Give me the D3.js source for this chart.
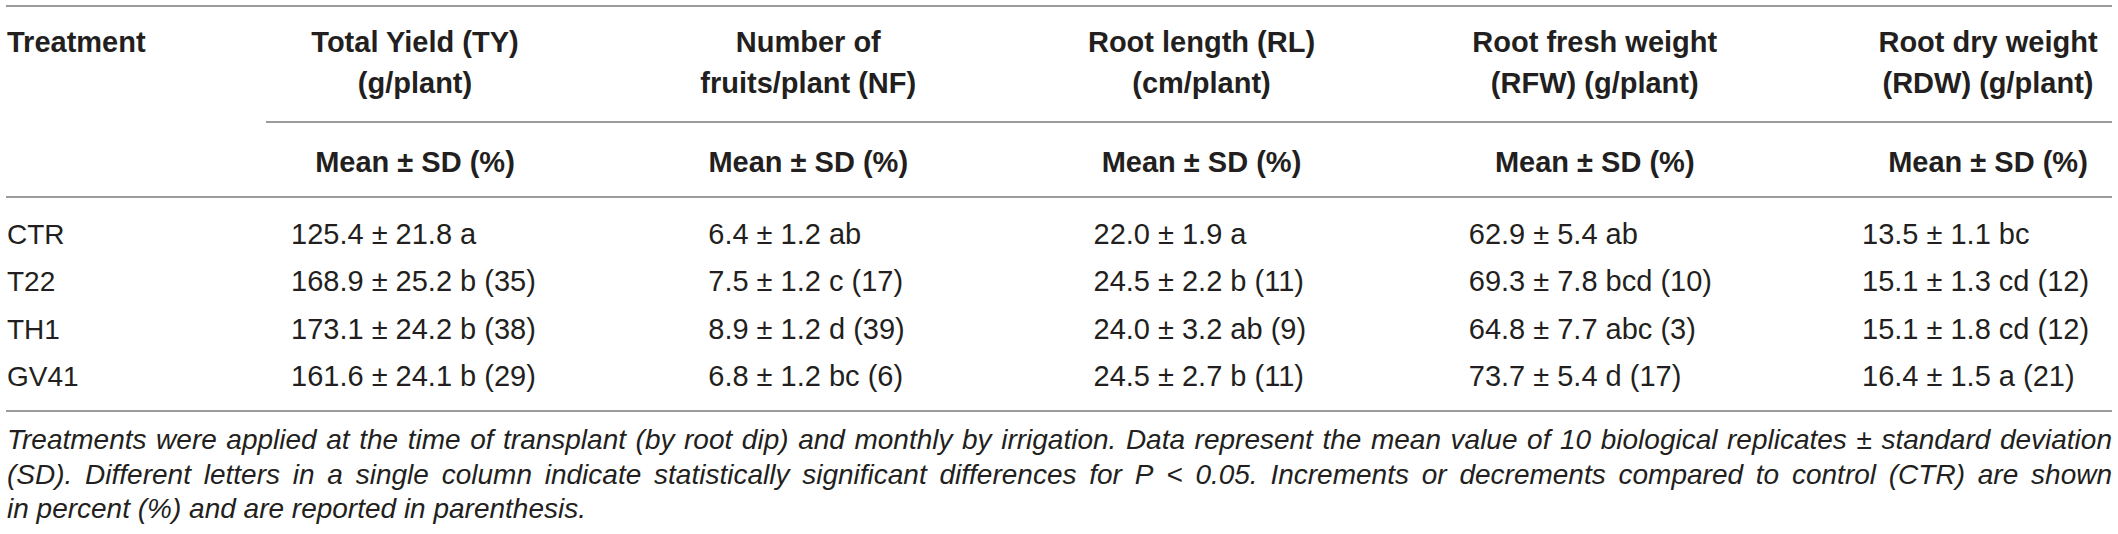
<!DOCTYPE html>
<html>
<head>
<meta charset="utf-8">
<script src="https://cdn.jsdelivr.net/npm/d3@7"></script>
<style>
  body { margin: 0; background: #fff; }
  svg { display: block; font-family: "Liberation Sans", Arial, sans-serif; }
</style>
</head>
<body>
<div id="chart-area"></div>
<script>
// Table data
var treatments = ["CTR", "T22", "TH1", "GV41"];
var columns = ["TY", "NF", "RL", "RFW", "RDW"];
var headerLine1 = ["Total Yield (TY)", "Number of", "Root length (RL)", "Root fresh weight", "Root dry weight"];
var headerLine2 = ["(g/plant)", "fruits/plant (NF)", "(cm/plant)", "(RFW) (g/plant)", "(RDW) (g/plant)"];
var subHeader = "Mean \u00b1 SD (%)";

var tyMean = [125.4, 168.9, 173.1, 161.6];
var tySd = [21.8, 25.2, 24.2, 24.1];
var tyLetter = ["a", "b", "b", "b"];
var tyPct = [null, 35, 38, 29];

var nfMean = [6.4, 7.5, 8.9, 6.8];
var nfSd = [1.2, 1.2, 1.2, 1.2];
var nfLetter = ["ab", "c", "d", "bc"];
var nfPct = [null, 17, 39, 6];

var rlMean = [22.0, 24.5, 24.0, 24.5];
var rlSd = [1.9, 2.2, 3.2, 2.7];
var rlLetter = ["a", "b", "ab", "b"];
var rlPct = [null, 11, 9, 11];

var rfwMean = [62.9, 69.3, 64.8, 73.7];
var rfwSd = [5.4, 7.8, 7.7, 5.4];
var rfwLetter = ["ab", "bcd", "abc", "d"];
var rfwPct = [null, 10, 3, 17];

var rdwMean = [13.5, 15.1, 15.1, 16.4];
var rdwSd = [1.1, 1.3, 1.8, 1.5];
var rdwLetter = ["bc", "cd", "cd", "a"];
var rdwPct = [null, 12, 12, 21];

var footnote = [
    "Treatments were applied at the time of transplant (by root dip) and monthly by irrigation. Data represent the mean value of 10 biological replicates \u00b1 standard deviation",
    "(SD). Different letters in a single column indicate statistically significant differences for P < 0.05. Increments or decrements compared to control (CTR) are shown",
    "in percent (%) and are reported in parenthesis."
];

// build cell table from the arrays
var series = [
    [tyMean, tySd, tyLetter, tyPct],
    [nfMean, nfSd, nfLetter, nfPct],
    [rlMean, rlSd, rlLetter, rlPct],
    [rfwMean, rfwSd, rfwLetter, rfwPct],
    [rdwMean, rdwSd, rdwLetter, rdwPct]
];
var f1 = d3.format(".1f");
var cells = [];
series.forEach((s, ci) => {
    treatments.forEach((t, ri) => {
        var txt = f1(s[0][ri]) + " \u00b1 " + f1(s[1][ri]) + " " + s[2][ri];
        if (s[3][ri] != null) txt += " (" + s[3][ri] + ")";
        cells.push({col: columns[ci], row: t, text: txt});
    });
});

// layout
var width = 2118, height = 534;
var left = 7, right = 2112;
var textColor = "#231f20", ruleColor = "#9b9b9b";
var valueShift = [-124, -100, -108, -126, -126];

var svg = d3.select("#chart-area").append("svg")
            .attr("width", width)
            .attr("height", height);

const x = d3.scalePoint().domain(columns).range([415, 1988]);
const y = d3.scalePoint().domain(treatments).range([244, 386]);
const valueX = (c) => x(c) + valueShift[columns.indexOf(c)];

// rules
var rules = [
    {x1: 6, x2: right, y: 6},
    {x1: 266, x2: right, y: 122},
    {x1: 6, x2: right, y: 197},
    {x1: 6, x2: right, y: 411}
];
svg.selectAll("line.rule").data(rules).enter().append("line")
    .attr("class", "rule")
    .attr("x1", d => d.x1).attr("x2", d => d.x2)
    .attr("y1", d => d.y).attr("y2", d => d.y)
    .attr("stroke", ruleColor)
    .attr("stroke-width", 2);

// header
svg.append("text")
    .attr("x", left).attr("y", 52)
    .attr("font-size", 29).attr("font-weight", "bold")
    .attr("fill", textColor)
    .text("Treatment");

svg.selectAll("text.h1").data(columns).enter().append("text")
    .attr("class", "h1")
    .attr("x", d => x(d)).attr("y", 52)
    .attr("text-anchor", "middle")
    .attr("font-size", 29).attr("font-weight", "bold")
    .attr("fill", textColor)
    .text((d, i) => headerLine1[i]);

svg.selectAll("text.h2").data(columns).enter().append("text")
    .attr("class", "h2")
    .attr("x", d => x(d)).attr("y", 93)
    .attr("text-anchor", "middle")
    .attr("font-size", 29).attr("font-weight", "bold")
    .attr("fill", textColor)
    .text((d, i) => headerLine2[i]);

svg.selectAll("text.sub").data(columns).enter().append("text")
    .attr("class", "sub")
    .attr("x", d => x(d)).attr("y", 172)
    .attr("text-anchor", "middle")
    .attr("font-size", 29).attr("font-weight", "bold")
    .attr("fill", textColor)
    .text(subHeader);

// body rows
svg.selectAll("text.name").data(treatments).enter().append("text")
    .attr("class", "name")
    .attr("x", left).attr("y", d => y(d))
    .attr("font-size", 28)
    .attr("fill", textColor)
    .text(d => d);

svg.selectAll("text.cell").data(cells).enter().append("text")
    .attr("class", "cell")
    .attr("x", d => valueX(d.col)).attr("y", d => y(d.row))
    .attr("font-size", 29)
    .attr("fill", textColor)
    .text(d => d.text);

// footnote: first two lines justified word by word, last line ragged
var fnY = [449, 484, 518];
var target = right - left;
var probe = svg.append("text")
    .attr("font-size", 28).attr("font-style", "italic");
function wordWidth(w) {
    probe.text(w);
    return probe.node().getComputedTextLength();
}

footnote.forEach((line, li) => {
    var t = svg.append("text")
        .attr("class", "fn")
        .attr("y", fnY[li])
        .attr("font-size", 28).attr("font-style", "italic")
        .attr("fill", textColor);
    if (li === footnote.length - 1) {
        t.attr("x", left).text(line);
        return;
    }
    var words = line.split(" ");
    var ws = words.map(wordWidth);
    var gap = (target - d3.sum(ws)) / (words.length - 1);
    var pos = left;
    words.forEach((w, wi) => {
        t.append("tspan").attr("x", pos).text(w);
        pos += ws[wi] + gap;
    });
});
probe.remove();
</script>
</body>
</html>
